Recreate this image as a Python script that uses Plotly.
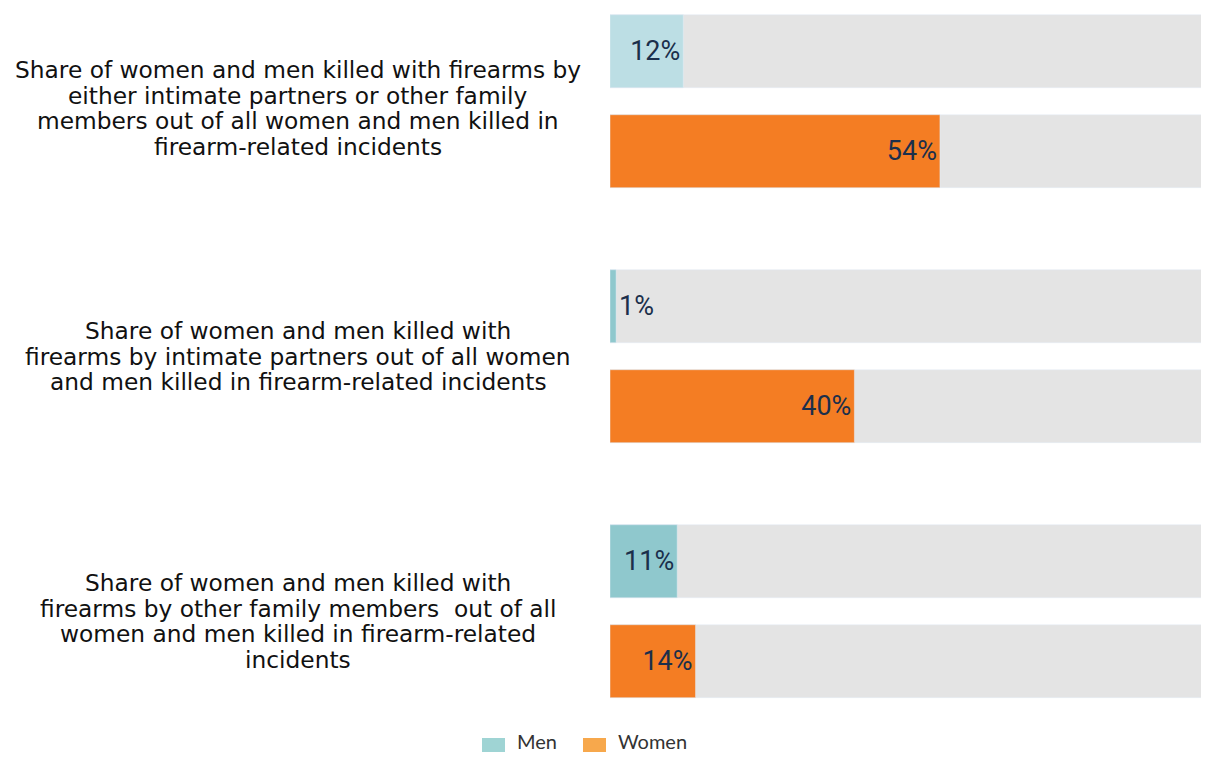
import plotly.graph_objects as go

categories = [
    "Share of women and men killed with firearms by<br>either intimate partners or other family<br>members out of all women and men killed in<br>firearm-related incidents",
    "Share of women and men killed with<br>firearms by intimate partners out of all women<br>and men killed in firearm-related incidents",
    "Share of women and men killed with<br>firearms by other family members  out of all<br>women and men killed in firearm-related<br>incidents",
]
men = [12, 1, 11]
women = [54, 40, 14]
full = [100, 100, 100]
legend_names = ["Men", "Women"]

men_colors = ["#bcdee4", "#8fc8cd", "#8fc8cd"]
women_color = "#f47d23"
grey = "#e4e4e4"
label_color = "#1b2f4b"

idx = list(range(len(categories)))
off = 0.196
w = 0.286
men_y = [i - off for i in idx]
women_y = [i + off for i in idx]

fig = go.Figure()
fig.add_trace(go.Bar(x=full, y=men_y, orientation="h", width=w, marker_color=grey,
                     showlegend=False, hoverinfo="skip"))
fig.add_trace(go.Bar(x=full, y=women_y, orientation="h", width=w, marker_color=grey,
                     showlegend=False, hoverinfo="skip"))
txtfont = dict(family="Roboto", size=27, color=label_color)
fig.add_trace(go.Bar(x=men, y=men_y, orientation="h", width=w, name=legend_names[0],
                     marker_color=men_colors, texttemplate="%{x}%", textposition="auto",
                     insidetextanchor="end", insidetextfont=txtfont, outsidetextfont=txtfont,
                     showlegend=False))
fig.add_trace(go.Bar(x=women, y=women_y, orientation="h", width=w, name=legend_names[1],
                     marker_color=women_color, texttemplate="%{x}%", textposition="auto",
                     insidetextanchor="end", insidetextfont=txtfont, outsidetextfont=txtfont,
                     showlegend=False))

# page body margin offset (screen px -> figure px); figure sized to avoid scrollbars
O = 8
W, H = 1193, 744
L, R, T, B = 602, 0, 0, 22
pw = W - L - R
ph = H - T - B
y0_px = 101.2 - O  # figure px of first group centre
unit = 255.0
px_per_pct = 6.11

def px_x(p):
    return (p - O - L) / pw

def px_y(p):
    return (H - B - (p - O)) / ph

annotations = []
pitch = 25.5
label_shift = [-7, 0, -10]
for i, c in enumerate(categories):
    lines = c.split("<br>")
    mid = (len(lines) - 1) / 2
    for j, ln in enumerate(lines):
        annotations.append(dict(text=ln, x=px_x(298), xref="paper", y=i, yref="y",
                                yshift=(mid - j) * pitch + label_shift[i],
                                xanchor="center", yanchor="middle", align="center",
                                showarrow=False,
                                font=dict(family="DejaVu Sans", size=23.3, color="#111111")))

# legend drawn manually
shapes = []
leg_cols = ["#9fd4d4", "#f7a84c"]
leg_sw = [482, 583]
leg_tx = [515, 616]
for name, col, sx, tx in zip(legend_names, leg_cols, leg_sw, leg_tx):
    shapes.append(dict(type="rect", xref="paper", yref="paper",
                       x0=px_x(sx), x1=px_x(sx + 23), y0=px_y(762), y1=px_y(738),
                       fillcolor=col, line_width=0))
    annotations.append(dict(text=name, x=px_x(tx), xref="paper", y=px_y(741), yref="paper",
                            xanchor="left", yanchor="middle", showarrow=False,
                            font=dict(family="Lato", size=20, color="#333333")))

fig.update_layout(
    width=W, height=H,
    margin=dict(l=L, r=R, t=T, b=B),
    barmode="overlay",
    plot_bgcolor="white", paper_bgcolor="white",
    xaxis=dict(range=[0, pw / px_per_pct], visible=False, fixedrange=True),
    yaxis=dict(range=[(ph - y0_px) / unit, -y0_px / unit], visible=False),
    annotations=annotations, shapes=shapes,
    showlegend=False,
)

fig.write_html("out.html")
